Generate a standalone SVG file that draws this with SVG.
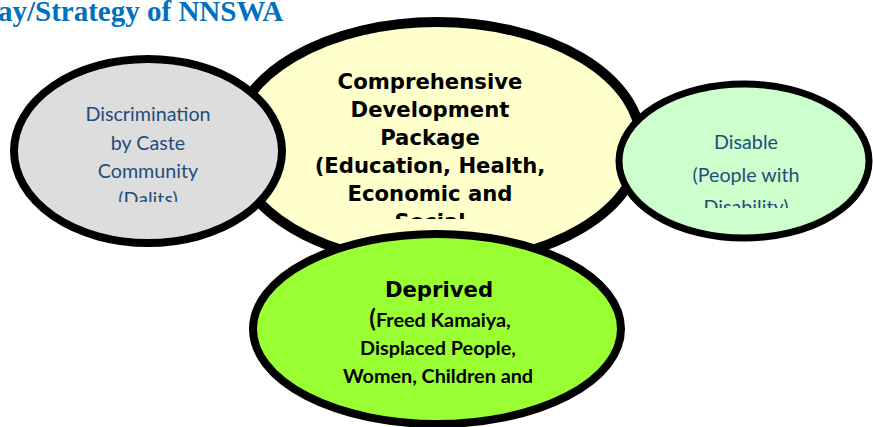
<svg xmlns="http://www.w3.org/2000/svg" width="873" height="427" viewBox="0 0 873 427">
<style>
.el{stroke:#000;}
.blue{font-family:Lato,"Open Sans","Liberation Sans",sans-serif;font-size:19.7px;fill:#1F4E79;text-anchor:middle;}
.bold{font-family:"DejaVu Sans",Verdana,sans-serif;font-weight:bold;font-size:21.2px;fill:#000;text-anchor:middle;}
.cal{font-family:Lato,"Open Sans","Liberation Sans",sans-serif;font-weight:bold;font-size:19.8px;fill:#000;text-anchor:middle;}
</style>
<defs>
<clipPath id="cGray"><rect x="0" y="0" width="300" height="202"/></clipPath>
<clipPath id="cYel"><rect x="230" y="0" width="420" height="219"/></clipPath>
<clipPath id="cRight"><rect x="610" y="0" width="263" height="208"/></clipPath>
</defs>
<text x="-2" y="21" font-family="Liberation Serif,serif" font-weight="bold" font-size="29" fill="#0070C0">ay/Strategy of NNSWA</text>
<g id="yellow">
<ellipse class="el" cx="437" cy="143" rx="204" ry="121" fill="#FFFFCC" stroke-width="10"/>
<g clip-path="url(#cYel)">
<text class="bold" x="430" y="89">Comprehensive</text>
<text class="bold" x="430" y="117">Development</text>
<text class="bold" x="430" y="145">Package</text>
<text class="bold" x="430" y="173">(Education, Health,</text>
<text class="bold" x="430" y="201">Economic and</text>
<text class="bold" x="430" y="229">Social</text>
</g>
</g>
<g id="gray">
<ellipse class="el" cx="148" cy="151" rx="134" ry="92" fill="#DDDDDD" stroke-width="8"/>
<g clip-path="url(#cGray)">
<text class="blue" x="148" y="121">Discrimination</text>
<text class="blue" x="148" y="150">by Caste</text>
<text class="blue" x="148" y="178">Community</text>
<text class="blue" x="148" y="206">(Dalits)</text>
</g>
</g>
<g id="right">
<ellipse class="el" cx="744" cy="161" rx="125" ry="77" fill="#CCFFCC" stroke-width="7"/>
<g clip-path="url(#cRight)">
<text class="blue" x="746" y="149">Disable</text>
<text class="blue" x="746" y="182">(People with</text>
<text class="blue" x="746" y="214">Disability)</text>
</g>
</g>
<g id="deprived">
<ellipse class="el" cx="437" cy="329" rx="184" ry="95" fill="#99FF33" stroke-width="8"/>
<text class="bold" x="439" y="297">Deprived</text>
<text class="cal" x="440" y="327"><tspan font-size="24">(</tspan>Freed Kamaiya,</text>
<text class="cal" x="438" y="355">Displaced People,</text>
<text class="cal" x="438" y="383">Women, Children and</text>
</g>
<g id="connectors"/>
</svg>
